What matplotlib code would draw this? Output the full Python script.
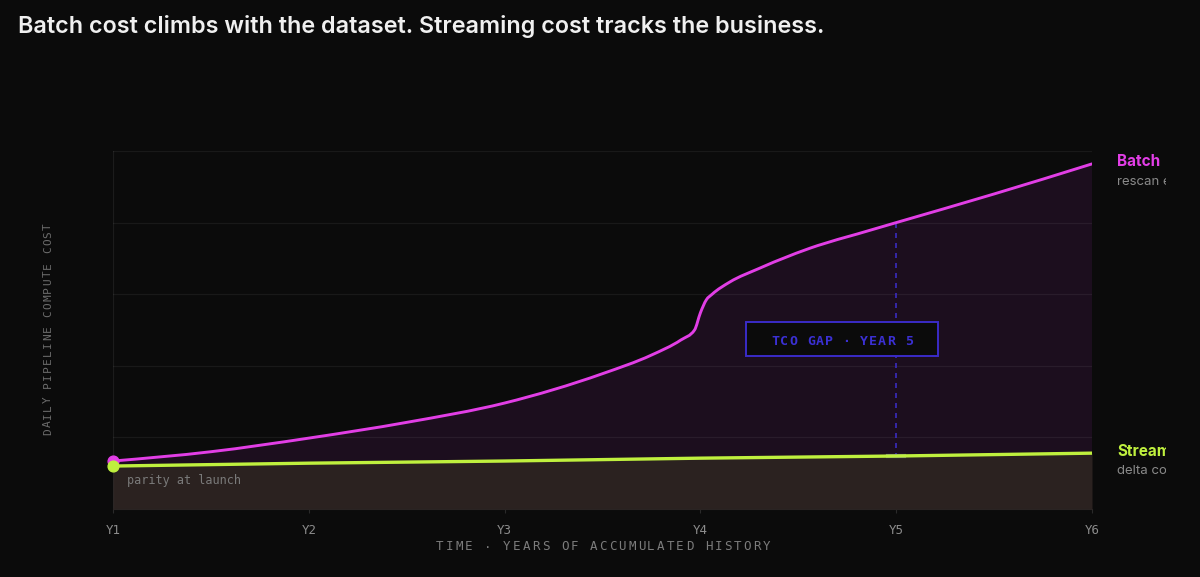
import numpy as np
import matplotlib
matplotlib.use("Agg")
import matplotlib.pyplot as plt
from matplotlib.transforms import offset_copy, Bbox, TransformedBbox
from matplotlib.patches import Rectangle, PathPatch
from matplotlib.path import Path

# values (years on x, relative daily cost on y)
years_batch = [1.0, 1.5, 2.0, 2.5, 3.0, 3.5, 3.75, 3.9, 3.97, 4.0, 4.03, 4.06, 4.15,
               4.3, 4.6, 4.8, 5.0, 5.5, 6.0]
batch_cost = [0.67, 0.80, 0.99, 1.21, 1.48, 1.89, 2.15, 2.36, 2.50, 2.74, 2.92, 3.00, 3.17,
              3.36, 3.68, 3.84, 4.00, 4.40, 4.82]
years_stream = [1, 2, 3, 4, 5, 6]
stream_cost = [0.60, 0.64, 0.67, 0.71, 0.74, 0.78]
year_ticks = [1, 2, 3, 4, 5, 6]
year_labels = ["Y1", "Y2", "Y3", "Y4", "Y5", "Y6"]
gap_year = 5

BG = "#0b0b0b"
PINK = "#e23ee6"
GREEN = "#bff03e"
MONO = "DejaVu Sans Mono"


def monotone_path(xs, ys):
    # smooth monotone curve through the points (like d3 curveMonotoneX)
    x = np.asarray(xs, float)
    y = np.asarray(ys, float)
    h = np.diff(x)
    s = np.diff(y) / h
    m = np.zeros(len(x))
    for k in range(1, len(x) - 1):
        p = (s[k - 1] * h[k] + s[k] * h[k - 1]) / (h[k - 1] + h[k])
        m[k] = (np.sign(s[k - 1]) + np.sign(s[k])) * min(abs(s[k - 1]), abs(s[k]), 0.5 * abs(p))
    m[0] = (3 * s[0] - m[1]) / 2
    m[-1] = (3 * s[-1] - m[-2]) / 2
    verts = [(x[0], y[0])]
    codes = [Path.MOVETO]
    for k in range(len(x) - 1):
        d = h[k] / 3
        verts += [(x[k] + d, y[k] + m[k] * d), (x[k + 1] - d, y[k + 1] - m[k + 1] * d),
                  (x[k + 1], y[k + 1])]
        codes += [Path.CURVE4] * 3
    return verts, codes


fig = plt.figure(figsize=(12, 5.77), dpi=100, facecolor=BG)
ax = fig.add_axes([113 / 1200, 1 - 509 / 577, (1092 - 113) / 1200, (509 - 151) / 577])
ax.set_facecolor(BG)
ax.set_xlim(1, 6)
ax.set_ylim(0, 5)

bv, bc = monotone_path(years_batch, batch_cost)

# fills
ax.fill_between(years_stream, 0, stream_cost, color="#2b2220", lw=0, zorder=1)
fv = bv + list(zip(years_stream[::-1], stream_cost[::-1]))
fc = bc + [Path.LINETO] * len(years_stream)
fv.append(fv[0])
fc.append(Path.CLOSEPOLY)
ax.add_patch(PathPatch(Path(fv, fc), facecolor="#1c0e1e", lw=0, zorder=1))

# grid
for g in range(1, 6):
    ax.axhline(g, color="#ffffff", alpha=0.06, lw=0.9, zorder=2)
ax.axvline(1, color="#ffffff", alpha=0.07, lw=0.9, zorder=2)

for s in ax.spines.values():
    s.set_visible(False)
ax.spines["bottom"].set_visible(True)
ax.spines["bottom"].set_color("#2a2423")

ax.set_xticks(year_ticks)
ax.set_xticklabels(year_labels, fontfamily=MONO, fontsize=9, color="#8c8c8c")
ax.tick_params(axis="x", length=3, color="#2a2a2a", pad=8)
ax.set_yticks([])

# TCO gap marker at year 5
b5 = batch_cost[years_batch.index(gap_year)]
s5 = stream_cost[years_stream.index(gap_year)]
ax.plot([gap_year, gap_year], [b5, s5], color="#3a2bc0", lw=1.2, ls=(0, (3, 3)), zorder=3)
ax.plot([gap_year - 0.04, gap_year + 0.04], [s5, s5], color="#6a6a80", lw=3, zorder=4)

# lines
ax.add_patch(PathPatch(Path(bv, bc), facecolor="none", edgecolor=PINK, lw=2.1,
                       capstyle="round", zorder=5))
ax.plot(years_stream, stream_cost, color=GREEN, lw=2.4, zorder=5, solid_capstyle="round")
ax.scatter([years_batch[0]], [batch_cost[0]], s=60, color=PINK, zorder=6, clip_on=False)
ax.scatter([years_stream[0]], [stream_cost[0]], s=60, color=GREEN, zorder=7, clip_on=False)


def spaced(trans, x, y, s, pitch, rotate=False, **kw):
    n = len(s)
    for i, ch in enumerate(s):
        d = (i - (n - 1) / 2) * pitch
        if rotate:
            t = offset_copy(trans, fig=fig, x=0, y=d, units="dots")
            fig.text(x, y, ch, transform=t, ha="center", va="center", rotation=90, **kw)
        else:
            t = offset_copy(trans, fig=fig, x=d, y=0, units="dots")
            fig.text(x, y, ch, transform=t, ha="center", va="center", **kw)


# annotation box
ax.add_patch(Rectangle((4.233, 2.137), 0.98, 0.475, facecolor=BG, edgecolor="#3a2bc8",
                       lw=1.4, zorder=6))
spaced(ax.transData, 4.723, 2.34, "TCO GAP · YEAR 5", 8.9,
       fontfamily=MONO, fontsize=9.5, fontweight="bold", color="#3b30d4", zorder=7)

ax.text(1.072, 0.395, "parity at launch", fontfamily=MONO, fontsize=8.5, color="#7a7a7a",
        va="center", ha="left", zorder=6)

# axis titles with letter spacing
spaced(fig.transFigure, 603 / 1200, 1 - 547 / 577, "TIME · YEARS OF ACCUMULATED HISTORY", 9.6,
       fontfamily=MONO, fontsize=9, color="#7c7c7c")
spaced(fig.transFigure, 48 / 1200, 1 - 329 / 577, "DAILY PIPELINE COMPUTE COST", 7.9,
       rotate=True, fontfamily=MONO, fontsize=8, color="#6c6c6c")

# right-hand series labels, clipped like the reference
clip = TransformedBbox(Bbox([[1100 / 1200, 0], [1166 / 1200, 1]]), fig.transFigure)
for lab, sub, val, col in [("Batch", "rescan entire history", batch_cost[-1], PINK),
                           ("Streaming", "delta compute only", stream_cost[-1], GREEN)]:
    t1 = offset_copy(ax.transData, fig=fig, x=25, y=2, units="dots")
    a = fig.text(6, val, lab, transform=t1, fontfamily="Inter", fontweight="bold",
                 fontsize=11, color=col, ha="left", va="center", clip_on=True)
    a.set_clip_box(clip)
    t2 = offset_copy(ax.transData, fig=fig, x=25, y=-18, units="dots")
    b = fig.text(6, val, sub, transform=t2, fontfamily="Inter", fontsize=9.5,
                 color="#8a8a8a", ha="left", va="center", clip_on=True)
    b.set_clip_box(clip)

fig.text(18 / 1200, 1 - 27 / 577,
         "Batch cost climbs with the dataset. Streaming cost tracks the business.",
         fontfamily="Inter", fontweight="semibold", fontsize=16.8, color="#f0f0f0",
         ha="left", va="center")

fig.savefig("out.png", dpi=100, facecolor=BG)
